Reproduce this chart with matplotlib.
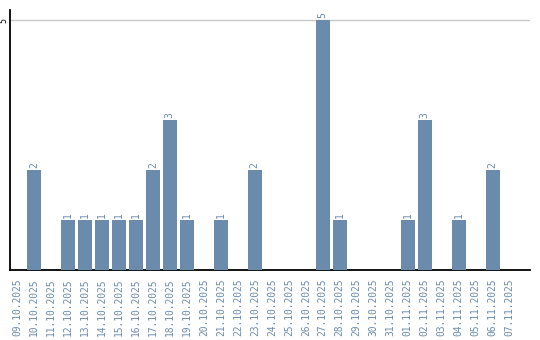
import numpy as np
import matplotlib
matplotlib.use("Agg")
import matplotlib.pyplot as plt

# daily counts, 09.10.2025 - 07.11.2025
dates = ["09.10.2025", "10.10.2025", "11.10.2025", "12.10.2025", "13.10.2025",
         "14.10.2025", "15.10.2025", "16.10.2025", "17.10.2025", "18.10.2025",
         "19.10.2025", "20.10.2025", "21.10.2025", "22.10.2025", "23.10.2025",
         "24.10.2025", "25.10.2025", "26.10.2025", "27.10.2025", "28.10.2025",
         "29.10.2025", "30.10.2025", "31.10.2025", "01.11.2025", "02.11.2025",
         "03.11.2025", "04.11.2025", "05.11.2025", "06.11.2025", "07.11.2025"]
counts = [0, 2, 0, 1, 1, 1, 1, 1, 2, 3,
          1, 0, 1, 0, 2, 0, 0, 0, 5, 1,
          0, 0, 0, 1, 3, 0, 1, 0, 2, 0]
yticks = [5]

bar_color = "#6a8bab"
text_color = "#6a8caf"
mono = "DejaVu Sans Mono"

fig = plt.figure(figsize=(5.4, 3.4), dpi=100)
ax = fig.add_axes([10/540, 70/340, 520/540, 260/340])

x = np.arange(len(dates))
ax.bar(x, counts, width=0.82, color=bar_color, zorder=3)

for xi, v in zip(x, counts):
    if v > 0:
        ax.text(xi, v + 0.04, str(v), rotation=90, ha="center", va="bottom",
                fontsize=7, family=mono, color=text_color)

ax.set_xlim(-0.41, 30.2)
ax.set_ylim(0, 5.2)
ax.set_xticks(x)
ax.set_xticklabels(dates, rotation=90, fontsize=6.9, family=mono, color=text_color)
ax.set_yticks(yticks)
ax.set_yticklabels([str(t) for t in yticks], rotation=90, fontsize=6,
                   family=mono, va="center")
ax.tick_params(axis="both", length=0)
ax.tick_params(axis="y", pad=0.8)
ax.tick_params(axis="x", pad=6)
ax.grid(axis="y", color="#c8c8c8", linewidth=1, zorder=0)

for s in ["top", "right"]:
    ax.spines[s].set_visible(False)
ax.spines["left"].set_linewidth(1.3)
ax.spines["bottom"].set_linewidth(1.3)

fig.savefig("out.png", dpi=100)
